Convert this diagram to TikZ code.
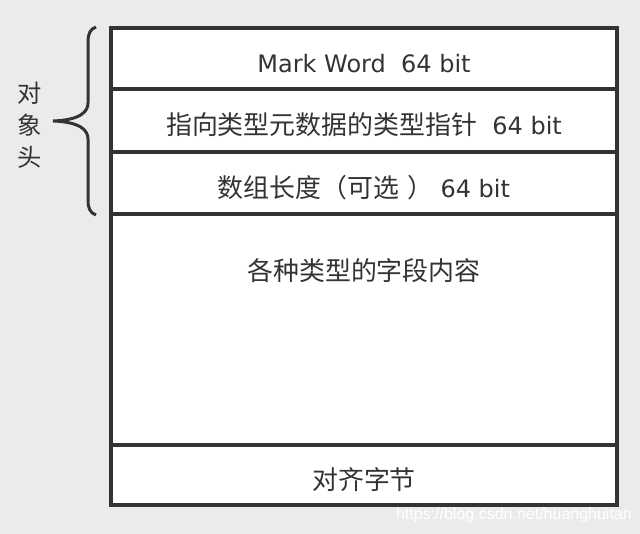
\documentclass[tikz,border=0pt]{standalone}
\usepackage{fontspec}
\setmainfont{DejaVu Sans}
\newfontfamily\cjkfont{Noto Sans CJK SC}[Scale=1.08]
\newfontfamily\wmfont{Liberation Sans}
\usepackage{tikz}
\usetikzlibrary{positioning}

\definecolor{bggray}{HTML}{EBEBEB}
\definecolor{linegray}{HTML}{333333}
\newcommand{\zh}[1]{{\cjkfont #1}}

\begin{document}
\begin{tikzpicture}[x=1pt,y=-1pt,
        row/.style={draw=linegray,line width=4pt,fill=white,minimum width=506pt,
            inner sep=0pt,outer sep=0pt,text=linegray,font=\fontsize{24}{30}\selectfont,
            text height=28pt,text depth=0pt},
        txt/.style={text=linegray,font=\fontsize{24}{30}\selectfont,inner sep=0pt}]
    \fill[bggray] (0,0) rectangle (640,534);
    \useasboundingbox (0,0) rectangle (640,534);

    % object layout, top to bottom
    \node[row,minimum height=61pt] (mark) at (364,58.75) {Mark Word\ \ 64 bit};
    \node[row,minimum height=63pt,below=0pt of mark] (klass) {\zh{指向类型元数据的类型指针}\ \ 64 bit};
    \node[row,minimum height=62pt,below=0pt of klass] (length) {\zh{数组长度（可选} \zh{）} 64 bit};
    \node[row,minimum height=231pt,below=0pt of length] (fields) {};
    \node[txt] (fieldslabel) at ([yshift=-56.5pt]fields.north) {\zh{各种类型的字段内容}};
    \node[row,minimum height=60pt,below=0pt of fields] (padding) {\zh{对齐字节}};

    % header brace
    \draw[linegray,line width=3pt] (96,27) .. controls (90,29) and (88,34) .. (88,42) -- (88,103)
        .. controls (88,112) and (80,120) .. (53,121)
        .. controls (80,122) and (88,130) .. (88,139) -- (88,200)
        .. controls (88,208) and (90,213) .. (96,215);
    \node[txt,align=center,font=\fontsize{22.5}{32}\selectfont] (header) at (30,125) {\zh{对}\\\zh{象}\\\zh{头}};

    % watermark
    \node[text=white,font=\wmfont\fontsize{16}{18}\selectfont,anchor=east,inner sep=0pt] (csdn) at (632,515) {https://blog.csdn.net/huanghuitan};
\end{tikzpicture}
\end{document}
